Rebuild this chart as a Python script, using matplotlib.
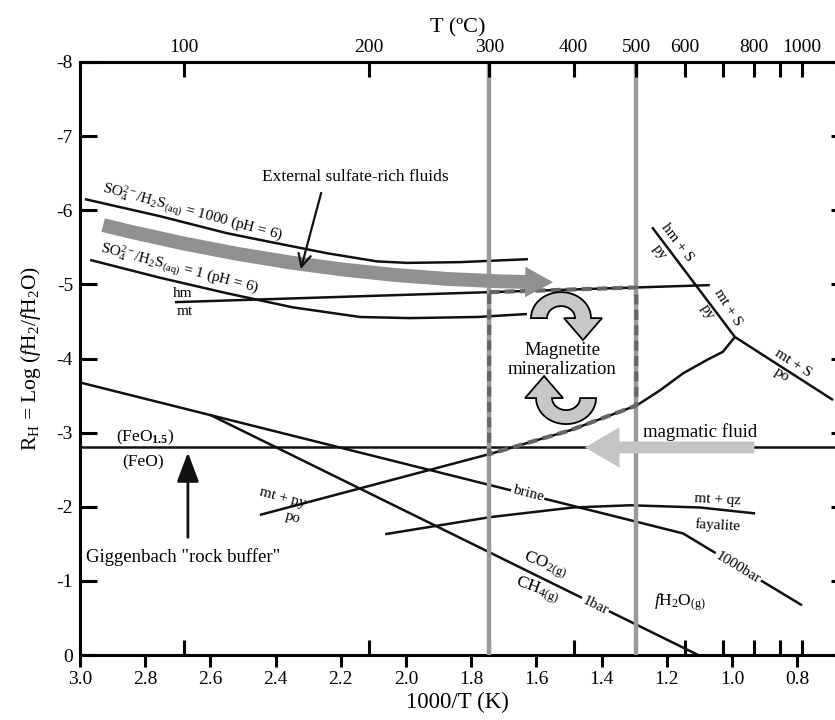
import numpy as np
import matplotlib
matplotlib.use("Agg")
import matplotlib.pyplot as plt
from matplotlib.patches import FancyArrowPatch, Polygon
from matplotlib.path import Path
from matplotlib.transforms import Affine2D, ScaledTranslation

plt.rcParams['font.family'] = ['Liberation Serif', 'DejaVu Serif']
plt.rcParams['mathtext.fontset'] = 'custom'
plt.rcParams['mathtext.rm'] = 'Liberation Serif'
plt.rcParams['mathtext.it'] = 'Liberation Serif:italic'
plt.rcParams['mathtext.bf'] = 'Liberation Serif:bold'
plt.rcParams['axes.unicode_minus'] = False

# --- data: x = 1000/T (K), y = R_H ---
so4_1000_x = [2.985, 2.755, 2.549, 2.448, 2.242, 2.089, 1.997, 1.834, 1.626]
so4_1000_y = [-6.15, -5.92, -5.69, -5.60, -5.42, -5.31, -5.29, -5.30, -5.34]
so4_1_x = [2.969, 2.755, 2.549, 2.347, 2.141, 1.988, 1.782, 1.629]
so4_1_y = [-5.33, -5.09, -4.88, -4.69, -4.56, -4.545, -4.56, -4.60]
hm_mt_x = [2.709, 1.068]
hm_mt_y = [-4.76, -4.99]
hmS_py_x = [1.245, 0.991]
hmS_py_y = [-5.77, -4.29]
mtS_po_x = [0.991, 0.690]
mtS_po_y = [-4.29, -3.44]
mtpy_po_x = [2.448, 1.736, 1.497, 1.291, 1.221, 1.150, 1.077, 1.028, 1.006, 0.991]
mtpy_po_y = [-1.89, -2.72, -3.03, -3.37, -3.57, -3.80, -3.98, -4.09, -4.21, -4.29]
rock_buffer = -2.8
brine_x = [2.994, 1.150, 0.785]
brine_y = [-3.67, -1.64, -0.67]
co2_ch4_x = [2.601, 1.104]
co2_ch4_y = [-3.24, 0.0]
qz_fa_x = [2.064, 1.742, 1.488, 1.313, 1.098, 0.929]
qz_fa_y = [-1.63, -1.86, -1.99, -2.02, -1.99, -1.91]

T_ticks = [100, 200, 300, 400, 500, 600, 700, 800, 900, 1000]
T_labels = ['100', '200', '300', '400', '500', '600', '', '800', '', '1000']
T_lines = [300, 500]

def inv(tc):
    return 1000.0 / (np.asarray(tc, dtype=float) + 273.15)

def interp(x, xs, ys):
    return np.interp(x, xs[::-1], ys[::-1])

def u_arrow(sign):
    # arch-shaped arrow outline in pixels around its centre (y up)
    a = np.linspace(np.pi, 0, 30)
    outer = np.c_[30 * np.cos(a), 26 * np.sin(a)]
    inner = np.c_[14 * np.cos(a[::-1]), 12 * np.sin(a[::-1])]
    head = np.array([[30, 0], [41, 0], [22, -22], [3, 0], [14, 0]])
    return sign * np.vstack([outer, head, inner])

fig = plt.figure(figsize=(8.35, 7.2), dpi=100)
ax = fig.add_axes([80/835, 65/720, 755/835, 593/720])
ax.set_xlim(3.0, 0.684)
ax.set_ylim(0, -8)

lw = 1.8
k = '#111111'
for xs, ys in [(so4_1000_x, so4_1000_y), (so4_1_x, so4_1_y), (hm_mt_x, hm_mt_y),
               (hmS_py_x, hmS_py_y), (mtS_po_x, mtS_po_y), (mtpy_po_x, mtpy_po_y),
               (brine_x, brine_y), (co2_ch4_x, co2_ch4_y), (qz_fa_x, qz_fa_y)]:
    ax.plot(xs, ys, color=k, lw=lw, zorder=3, solid_capstyle='butt', solid_joinstyle='round')
ax.axhline(rock_buffer, color=k, lw=lw, zorder=3)

# grey isotherms 300 and 500 C
for t in T_lines:
    ax.axvline(inv(t), color='#9a9a9a', lw=3.2, zorder=4)

# dashed box (magnetite mineralization window)
x300, x500 = inv(300), inv(500)
top = [interp(x300, hm_mt_x, hm_mt_y), interp(x500, hm_mt_x, hm_mt_y)]
cx = [x300] + [v for v in mtpy_po_x if x500 < v < x300] + [x500]
cy = [interp(v, mtpy_po_x, mtpy_po_y) for v in cx]
bx = [x300, x500, x500] + cx[::-1] + [x300]
by = [top[0], top[1], cy[-1]] + cy[::-1] + [top[0]]
ax.plot(bx, by, color='#666666', lw=3, ls=(0, (2.4, 1.3)), zorder=5)

# external sulfate-rich fluid arrow (curved)
p = Path([(2.929, -5.80), (2.230, -5.03), (1.549, -5.03)],
         [Path.MOVETO, Path.CURVE3, Path.CURVE3])
ax.add_patch(FancyArrowPatch(path=p, arrowstyle='simple,head_length=20,head_width=22,tail_width=10',
                             mutation_scale=1, color='#909090', lw=0, zorder=6))
# magmatic fluid arrow
ax.add_patch(FancyArrowPatch((0.923, rock_buffer), (1.460, rock_buffer),
                             arrowstyle='simple,head_length=25,head_width=29,tail_width=8.6',
                             mutation_scale=1, color='#c4c4c4', lw=0, zorder=6))
# circulation arrows
for (cxp, cyp), sgn in [((1.5245, -4.545), 1), ((1.509, -3.466), -1)]:
    tr = Affine2D().scale(0.01) + fig.dpi_scale_trans + ScaledTranslation(cxp, cyp, ax.transData)
    ax.add_patch(Polygon(u_arrow(sgn), closed=True, fc='#c8c8c8', ec='k', lw=1.3,
                         transform=tr, zorder=7))

# pointers
ax.annotate('', xy=(2.325, -5.17), xytext=(2.258, -6.27),
            arrowprops=dict(arrowstyle='->,head_length=0.6,head_width=0.3', color=k, lw=1.6,
                            mutation_scale=15), zorder=6)
ax.annotate('', xy=(2.669, -2.77), xytext=(2.669, -1.55),
            arrowprops=dict(arrowstyle='-|>,head_length=1.2,head_width=0.45', color=k, lw=2.0,
                            mutation_scale=15), zorder=6)

# text labels
fs = 11
ax.text(2.939, -6.16, 'SO$_4^{2-}$/H$_2$S$_{\\mathrm{(aq)}}$ = 1000 (pH = 6)', fontsize=fs,
        rotation=-15, rotation_mode='anchor', ha='left', va='bottom')
ax.text(2.945, -5.35, 'SO$_4^{2-}$/H$_2$S$_{\\mathrm{(aq)}}$ = 1 (pH = 6)', fontsize=fs,
        rotation=-14.5, rotation_mode='anchor', ha='left', va='bottom')
ax.text(2.156, -6.45, 'External sulfate-rich fluids', fontsize=12.5, ha='center', va='center')
ax.text(2.684, -4.88, 'hm', fontsize=fs, ha='center', va='center')
ax.text(2.678, -4.63, 'mt', fontsize=fs, ha='center', va='center')
ax.text(1.169, -5.56, 'hm + S', fontsize=fs, rotation=-53, ha='center', va='center')
ax.text(1.221, -5.44, 'py', fontsize=fs, rotation=-53, ha='center', va='center')
ax.text(1.012, -4.69, 'mt + S', fontsize=fs, rotation=-58, ha='center', va='center')
ax.text(1.077, -4.63, 'py', fontsize=fs, rotation=-58, ha='center', va='center')
ax.text(0.813, -3.94, 'mt + S', fontsize=fs, rotation=-33, ha='center', va='center')
ax.text(0.847, -3.78, 'po', fontsize=fs, rotation=-33, ha='center', va='center')
ax.text(1.521, -3.98, 'Magnetite\nmineralization', fontsize=13.5, ha='center', va='center',
        linespacing=1.1, zorder=8)
ax.text(1.098, -3.01, 'magmatic fluid', fontsize=13.5, ha='center', va='center')
ax.text(2.80, -2.93, '(FeO$_{\\mathbf{1.5}}$)', fontsize=12.5, ha='center', va='center')
ax.text(2.807, -2.60, '(FeO)', fontsize=12.5, ha='center', va='center')
ax.text(2.684, -1.32, 'Giggenbach "rock buffer"', fontsize=13.5, ha='center', va='center')
ax.text(2.377, -2.12, 'mt + py', fontsize=fs, rotation=-15, ha='center', va='center')
ax.text(2.347, -1.85, 'po', fontsize=fs, rotation=-15, ha='center', va='center')
bb = dict(facecolor='white', edgecolor='none', pad=1.0)
ax.text(1.626, -2.18, 'brine', fontsize=fs, rotation=-14, ha='center', va='center', bbox=bb, zorder=4)
ax.text(1.043, -2.09, 'mt + qz', fontsize=fs, rotation=-3, ha='center', va='center')
ax.text(1.043, -1.75, 'fayalite', fontsize=fs, rotation=-3, ha='center', va='center')
ax.text(0.982, -1.18, '1000bar', fontsize=fs, rotation=-31, ha='center', va='center', bbox=bb, zorder=4)
ax.text(1.574, -1.21, 'CO$_{2\\mathrm{(g)}}$', fontsize=12.5, rotation=-20, ha='center', va='center')
ax.text(1.598, -0.875, 'CH$_{4\\mathrm{(g)}}$', fontsize=12.5, rotation=-20, ha='center', va='center')
ax.text(1.420, -0.67, '1bar', fontsize=fs, rotation=-26, ha='center', va='center', bbox=bb, zorder=4)
ax.text(1.160, -0.71, '$f$H$_2$O$_{\\mathrm{(g)}}$', fontsize=12.5, ha='center', va='center')

# axes styling
for s in ['left', 'bottom', 'top']:
    ax.spines[s].set_linewidth(2.2)
ax.spines['right'].set_visible(False)
xt = np.arange(3.0, 0.7, -0.2)
ax.set_xticks(xt)
ax.set_xticklabels([f'{v:.1f}' for v in xt])
ax.set_xticks(inv(T_ticks), minor=True)
ax.set_yticks(np.arange(-8, 1, 1))
ax.tick_params(axis='x', which='major', direction='out', length=8.5, width=2.2,
               labelsize=14, pad=3, top=False)
ax.tick_params(axis='x', which='minor', direction='in', length=10.5, width=2.2, top=False)
ax.tick_params(axis='y', which='major', direction='in', length=12, width=2.2,
               labelsize=14, pad=5, right=True)
for t in ax.yaxis.get_major_ticks():
    t.tick2line.set_markersize(3)
ax.set_xlabel('1000/T (K)', fontsize=16.5, labelpad=3)
ax.set_ylabel('R$_{\\mathrm{H}}$ = Log ($f$H$_2$/$f$H$_2$O)', fontsize=15.5, labelpad=10)

ax2 = ax.twiny()
ax2.set_xlim(ax.get_xlim())
ax2.set_xticks(inv(T_ticks))
ax2.set_xticklabels(T_labels)
ax2.tick_params(axis='x', direction='in', length=10.5, width=2.2, labelsize=14, pad=4)
for s in ['left', 'bottom', 'right']:
    ax2.spines[s].set_visible(False)
ax2.spines['top'].set_linewidth(2.2)
ax2.set_xlabel('T (ºC)', fontsize=16, labelpad=5)

fig.savefig('out.png', dpi=100)
